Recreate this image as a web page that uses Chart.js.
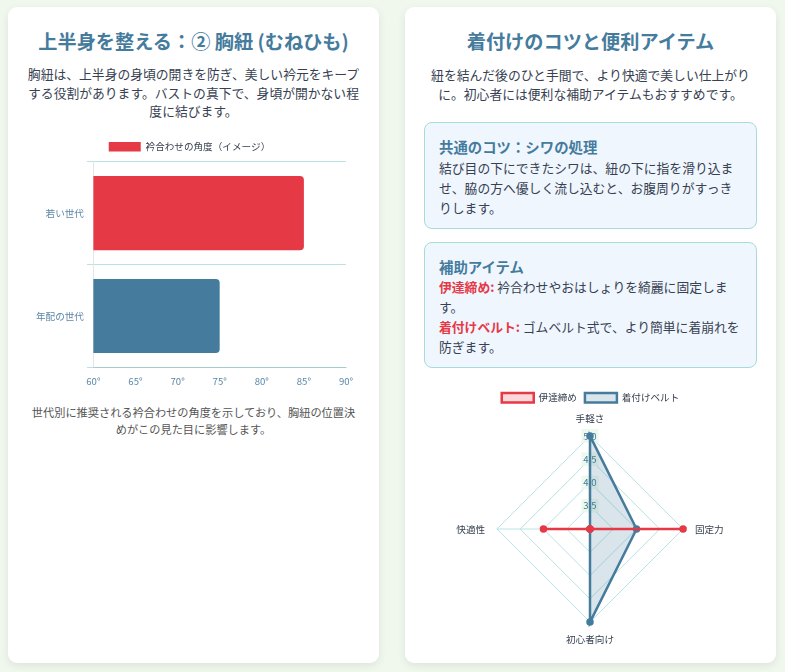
<!DOCTYPE html>
<html lang="ja">
<head>
<meta charset="UTF-8">
<script src="https://cdn.jsdelivr.net/npm/chart.js@4.4.1/dist/chart.umd.min.js"></script>
<style>
  html, body { margin: 0; padding: 0; }
  body {
    width: 785px; height: 672px; overflow: hidden; position: relative;
    background: #f0f8ee;
    font-family: 'Noto Sans CJK JP', 'Noto Sans', sans-serif;
    color: #374151;
  }
  .card {
    position: absolute; top: 7px; width: 371px; height: 656px;
    box-sizing: border-box; padding: 20px 19px 0 19px;
    background: #fff; border-radius: 9px;
    box-shadow: 0 3px 8px rgba(0,0,0,0.08);
  }
  #left { left: 8px; }
  #right { left: 405px; }
  h2 {
    margin: 0; font-size: 19.2px; line-height: 28px; font-weight: 700;
    color: #457b9d; text-align: center;
  }
  .intro { margin: 10px -2px 0 -2px; font-size: 12.8px; text-align: center; color: #374151; }
  #left .intro { line-height: 18.5px; }
  #right .intro { line-height: 19.2px; }
  .chartbox { position: relative; }
  #barBox { margin-top: 14px; height: 252px; }
  #radarBox { margin-top: 17px; height: 261px; }
  .caption { margin: 17px 0 0 0; font-size: 11.2px; line-height: 17px; text-align: center; color: #555; }
  .tip {
    box-sizing: border-box; border: 1px solid #a8dadc; border-radius: 8px;
    background: #eff6fe; padding: 13px 14px 10px 14px;
  }
  .tip h3 { margin: 0; font-size: 14.4px; line-height: 21.6px; font-weight: 700; color: #457b9d; }
  .tip p { margin: 0; font-size: 12.8px; line-height: 20px; color: #374151; }
  .tip b { color: #e63946; }
  #tip1 { margin-top: 18.6px; }
  #tip2 { margin-top: 13px; }
</style>
</head>
<body>
<div class="card" id="left">
  <h2>上半身を整える：② 胸紐 (むねひも)</h2>
  <p class="intro">胸紐は、上半身の身頃の開きを防ぎ、美しい衿元をキープする役割があります。バストの真下で、身頃が開かない程度に結びます。</p>
  <div class="chartbox" id="barBox"><canvas id="barChart"></canvas></div>
  <p class="caption">世代別に推奨される衿合わせの角度を示しており、胸紐の位置決めがこの見た目に影響します。</p>
</div>
<div class="card" id="right">
  <h2>着付けのコツと便利アイテム</h2>
  <p class="intro">紐を結んだ後のひと手間で、より快適で美しい仕上がりに。初心者には便利な補助アイテムもおすすめです。</p>
  <div class="tip" id="tip1">
    <h3>共通のコツ：シワの処理</h3>
    <p>結び目の下にできたシワは、紐の下に指を滑り込ませ、脇の方へ優しく流し込むと、お腹周りがすっきりします。</p>
  </div>
  <div class="tip" id="tip2">
    <h3>補助アイテム</h3>
    <p><b>伊達締め:</b> 衿合わせやおはしょりを綺麗に固定します。<br><b>着付けベルト:</b> ゴムベルト式で、より簡単に着崩れを防ぎます。</p>
  </div>
  <div class="chartbox" id="radarBox"><canvas id="radarChart"></canvas></div>
</div>
<script>
// ---- Bar chart data ----
const barCategories = ['若い世代', '年配の世代'];
const barValues = [85, 75];
const barSeriesLabel = '衿合わせの角度（イメージ）';
const barColors = ['#e63946', '#457b9d'];

// ---- Radar chart data ----
const radarCategories = ['手軽さ', '固定力', '初心者向け', '快適性'];
const datejimeValues = [3, 5, 3, 4];
const beltValues = [5, 4, 5, 3];
const radarSeriesLabels = ['伊達締め', '着付けベルト'];

Chart.defaults.font.family = "'Noto Sans CJK JP', 'Noto Sans', sans-serif";
Chart.defaults.font.size = 9.6;
Chart.defaults.color = '#4a5568';

new Chart(document.getElementById('barChart'), {
  type: 'bar',
  data: {
    labels: barCategories,
    datasets: [{
      label: barSeriesLabel,
      data: barValues,
      backgroundColor: barColors,
      borderRadius: 4
    }]
  },
  options: {
    indexAxis: 'y',
    responsive: true,
    maintainAspectRatio: false,
    animation: false,
    layout: { padding: { left: 6, right: 14 } },
    plugins: {
      legend: { labels: { boxWidth: 32, boxHeight: 9.6, padding: 7, color: '#374151' } },
      tooltip: { enabled: false }
    },
    scales: {
      x: {
        min: 60, max: 90,
        ticks: { stepSize: 5, padding: 0, color: '#5b87a8', callback: v => v + '°' },
        grid: { display: false }
      },
      y: {
        ticks: { color: '#5b87a8' },
        grid: { color: '#b9e2e3', tickLength: 6.4 }
      }
    }
  }
});

new Chart(document.getElementById('radarChart'), {
  type: 'radar',
  data: {
    labels: radarCategories,
    datasets: [{
      label: radarSeriesLabels[0],
      data: datejimeValues,
      borderColor: '#e63946',
      backgroundColor: 'rgba(230,57,70,0.2)',
      pointBackgroundColor: '#e63946',
      pointBorderColor: '#e63946',
      borderWidth: 2.5,
      pointRadius: 2.5
    }, {
      label: radarSeriesLabels[1],
      data: beltValues,
      borderColor: '#457b9d',
      backgroundColor: 'rgba(69,123,157,0.2)',
      pointBackgroundColor: '#457b9d',
      pointBorderColor: '#457b9d',
      borderWidth: 2.5,
      pointRadius: 2.5
    }]
  },
  options: {
    responsive: true,
    maintainAspectRatio: false,
    animation: false,
    plugins: {
      legend: { labels: { boxWidth: 32, boxHeight: 9.6, padding: 8, color: '#374151' } },
      tooltip: { enabled: false }
    },
    scales: {
      r: {
        min: 3, max: 5,
        ticks: { stepSize: 0.5, color: '#457b9d', backdropColor: 'rgba(236,248,236,0.9)', font: { size: 9.6 } },
        grid: { color: '#b9e2e3' },
        angleLines: { color: '#b9e2e3' },
        pointLabels: { color: '#374151', font: { size: 9.6 } }
      }
    }
  }
});
</script>
</body>
</html>
